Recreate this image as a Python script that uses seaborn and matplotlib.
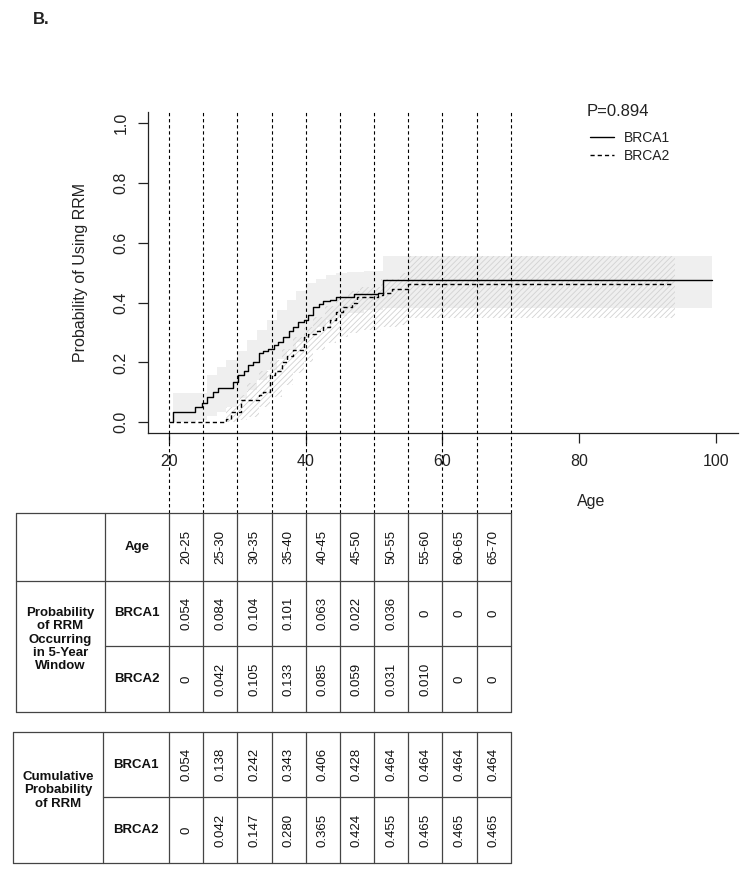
import matplotlib
matplotlib.use("Agg")
import matplotlib.pyplot as plt
from matplotlib.lines import Line2D
import numpy as np
import seaborn as sns

# Kaplan-Meier style cumulative probability of RRM
brca1_age = [20.6, 20.6, 23.8, 24.8, 25.5, 26.5, 27.2, 29.4, 30.1, 30.9, 31.6, 32.3, 33.1, 33.8, 34.5,
             35.3, 36.0, 36.7, 37.5, 38.2, 38.9, 39.7, 40.4, 41.1, 41.9, 42.6, 43.6, 44.5, 47.0,
             50.6, 51.3, 99.4]
brca1_prob = [0.0, 0.033, 0.052, 0.063, 0.085, 0.100, 0.113, 0.136, 0.158, 0.170, 0.190, 0.202, 0.230,
              0.240, 0.245, 0.258, 0.270, 0.285, 0.305, 0.320, 0.335, 0.342, 0.360, 0.385, 0.395,
              0.405, 0.410, 0.420, 0.428, 0.433, 0.476, 0.476]
brca2_age = [20.05, 28.4, 29.0, 30.6, 33.1, 33.8, 34.8, 35.5, 36.5, 37.2, 38.2, 39.7, 40.4, 41.5,
             42.5, 43.6, 44.5, 45.5, 46.8, 47.5, 50.6, 51.3, 52.6, 55.0, 93.5]
brca2_prob = [0.0, 0.012, 0.035, 0.075, 0.090, 0.102, 0.158, 0.170, 0.200, 0.220, 0.242, 0.286,
              0.295, 0.305, 0.320, 0.342, 0.370, 0.387, 0.400, 0.420, 0.425, 0.434, 0.446, 0.462,
              0.462]

# confidence bands
ci1_age = [20.6, 24.0, 25.5, 27.0, 28.4, 30.0, 31.4, 32.8, 34.3, 35.8, 37.2, 38.6, 40.1, 41.5,
           43.0, 44.5, 46.0, 48.5, 51.3, 99.4]
ci1_low = [0.0, 0.008, 0.02, 0.035, 0.052, 0.08, 0.108, 0.14, 0.175, 0.21, 0.242, 0.27, 0.298,
           0.32, 0.342, 0.355, 0.365, 0.376, 0.381, 0.381]
ci1_high = [0.097, 0.097, 0.158, 0.185, 0.208, 0.24, 0.275, 0.31, 0.342, 0.375, 0.409, 0.44,
            0.465, 0.48, 0.493, 0.50, 0.504, 0.506, 0.556, 0.556]
ci2_age = [28.4, 29.9, 31.4, 33.1, 34.8, 36.5, 38.2, 39.7, 41.1, 42.8, 44.5, 46.2, 48.0, 51.0,
           53.8, 55.0, 94.0]
ci2_low = [0.0, 0.008, 0.019, 0.05, 0.086, 0.125, 0.164, 0.2, 0.242, 0.265, 0.286, 0.298, 0.309,
           0.318, 0.325, 0.348, 0.348]
ci2_high = [0.05, 0.09, 0.13, 0.17, 0.208, 0.245, 0.286, 0.32, 0.353, 0.39, 0.42, 0.44, 0.453,
            0.48, 0.498, 0.556, 0.556]

# table values
windows = ["20-25", "25-30", "30-35", "35-40", "40-45", "45-50", "50-55", "55-60", "60-65", "65-70"]
window_edges = [20, 25, 30, 35, 40, 45, 50, 55, 60, 65, 70]
p5_brca1 = [0.054, 0.084, 0.104, 0.101, 0.063, 0.022, 0.036, 0, 0, 0]
p5_brca2 = [0, 0.042, 0.105, 0.133, 0.085, 0.059, 0.031, 0.010, 0, 0]
cum_brca1 = [0.054, 0.138, 0.242, 0.343, 0.406, 0.428, 0.464, 0.464, 0.464, 0.464]
cum_brca2 = [0, 0.042, 0.147, 0.280, 0.365, 0.424, 0.455, 0.465, 0.465, 0.465]

sns.set_style("ticks")
plt.rcParams['font.family'] = ['Liberation Sans', 'DejaVu Sans']
plt.rcParams['hatch.linewidth'] = 0.6

W, H = 751, 876
fig = plt.figure(figsize=(W / 100, H / 100), dpi=100)
ax_l, ax_r, ax_t, ax_b = 147.7, 738.0, 111.7, 433.0
ax = fig.add_axes([ax_l / W, 1 - ax_b / H, (ax_r - ax_l) / W, (ax_b - ax_t) / H])
xlim = (16.88, 103.25)
ylim = (-0.036, 1.039)

ink = '#222222'
ax.fill_between(ci1_age, ci1_low, ci1_high, step='post', color='#efefef', linewidth=0, zorder=1)
ax.fill_between(ci2_age, ci2_low, ci2_high, step='post', facecolor='none', edgecolor='#d2d2d2',
                hatch='//////', linewidth=0, zorder=2)
sns.lineplot(x=brca1_age, y=brca1_prob, drawstyle='steps-post', color='black', linewidth=1.0,
             estimator=None, sort=False, ax=ax, zorder=4)
sns.lineplot(x=brca2_age, y=brca2_prob, drawstyle='steps-post', color='black', linewidth=1.0,
             linestyle=(0, (3, 2.2)), estimator=None, sort=False, ax=ax, zorder=4)

ax.set_xlim(*xlim)
ax.set_ylim(*ylim)
ax.set_xticks([20, 40, 60, 80, 100])
ax.set_yticks([0, 0.2, 0.4, 0.6, 0.8, 1.0])
ax.set_yticklabels(["0.0", "0.2", "0.4", "0.6", "0.8", "1.0"], rotation=90, va='center')
ax.tick_params(axis='both', length=7, width=0.9, color=ink, labelsize=11.5, labelcolor=ink)
ax.tick_params(axis='x', pad=8)
ax.tick_params(axis='y', pad=7)
for s in ['top', 'right']:
    ax.spines[s].set_visible(False)
for s in ['left', 'bottom']:
    ax.spines[s].set_color(ink)
    ax.spines[s].set_linewidth(0.9)
ax.set_xlabel("Age", fontsize=11.5, color=ink)
ax.xaxis.set_label_coords((590.7 - ax_l) / (ax_r - ax_l), (ax_b - 501.7) / (ax_b - ax_t))
ax.xaxis.label.set_verticalalignment('center')
ax.set_ylabel("Probability of Using RRM", fontsize=11.5, color=ink)
ax.yaxis.set_label_coords((80 - ax_l) / (ax_r - ax_l), 0.5)
ax.yaxis.label.set_verticalalignment('center')

# window separators running down to the table
for e in window_edges:
    ax.axvline(e, ymin=(ax_b - 513) / (ax_b - ax_t), ymax=(ax_b - 110) / (ax_b - ax_t),
               color='black', linewidth=0.8, linestyle=(0, (3, 2.5)), clip_on=False, zorder=3)

fig.text(587 / W, 1 - 111 / H, "P=0.894", fontsize=12, color=ink, va='center', ha='left')
handles = [Line2D([], [], color='black', lw=1.0),
           Line2D([], [], color='black', lw=1.0, linestyle=(0, (3, 2.2)))]
ax.legend(handles, ["BRCA1", "BRCA2"], frameon=False, fontsize=10, loc='upper left',
          bbox_to_anchor=(590 / W, 1 - 131 / H), bbox_transform=fig.transFigure,
          borderpad=0, borderaxespad=0, handlelength=1.75, handletextpad=0.7,
          labelspacing=0.3, labelcolor=ink)

fig.text(33 / W, 1 - 19 / H, "B.", fontsize=12, fontweight='bold', color=ink, va='center')

# tables, drawn on an overlay sharing the age scale in x and pixel rows in y
tax = fig.add_axes([ax_l / W, 0, (ax_r - ax_l) / W, 1])
tax.set_xlim(*xlim)
tax.set_ylim(H, 0)
tax.axis('off')


def px2age(px):
    return xlim[0] + (px - ax_l) / (ax_r - ax_l) * (xlim[1] - xlim[0])


def fmt(v):
    return "0" if v == 0 else f"{v:.3f}"


line_kw = dict(color='#444444', linewidth=0.9, clip_on=False)
txt_kw = dict(color='#111111', clip_on=False)


def draw_table(left, split, rows_y, header, group_label, row1, row2):
    x0, x1 = px2age(left), px2age(split)
    xr = window_edges[-1]
    top, bot = rows_y[0], rows_y[-1]
    for yy in (top, bot):
        tax.plot([x0, xr], [yy, yy], **line_kw)
    for xx in [x0, x1] + window_edges:
        tax.plot([xx, xx], [top, bot], **line_kw)
    for yy in rows_y[1:-1]:
        start = x0 if (header and yy == rows_y[1]) else x1
        tax.plot([start, xr], [yy, yy], **line_kw)
    mids = [(a + b) / 2 for a, b in zip(window_edges[:-1], window_edges[1:])]
    r = 0
    if header:
        cy = (rows_y[0] + rows_y[1]) / 2
        tax.text((x1 + window_edges[0]) / 2, cy, "Age", ha='center', va='center',
                 fontsize=9.5, fontweight='bold', **txt_kw)
        for m, w in zip(mids, windows):
            tax.text(m, cy, w, rotation=90, ha='center', va='center', fontsize=9.5, **txt_kw)
        r = 1
    gy = (rows_y[r] + rows_y[-1]) / 2 - 7
    tax.text((x0 + x1) / 2, gy, group_label, ha='center', va='center', fontsize=9.5,
             fontweight='bold', linespacing=1.12, **txt_kw)
    for name, vals, k in (("BRCA1", row1, r), ("BRCA2", row2, r + 1)):
        cy = (rows_y[k] + rows_y[k + 1]) / 2
        tax.text((x1 + window_edges[0]) / 2, cy, name, ha='center', va='center',
                 fontsize=9.5, fontweight='bold', **txt_kw)
        for m, v in zip(mids, vals):
            tax.text(m, cy, fmt(v), rotation=90, ha='center', va='center', fontsize=9.5, **txt_kw)


draw_table(16, 105, [513, 581, 646, 712], True,
           "Probability\nof RRM\nOccurring\nin 5-Year\nWindow", p5_brca1, p5_brca2)
draw_table(13, 103, [732, 797, 863], False,
           "Cumulative\nProbability\nof RRM", cum_brca1, cum_brca2)

fig.savefig("out.png", dpi=100)
